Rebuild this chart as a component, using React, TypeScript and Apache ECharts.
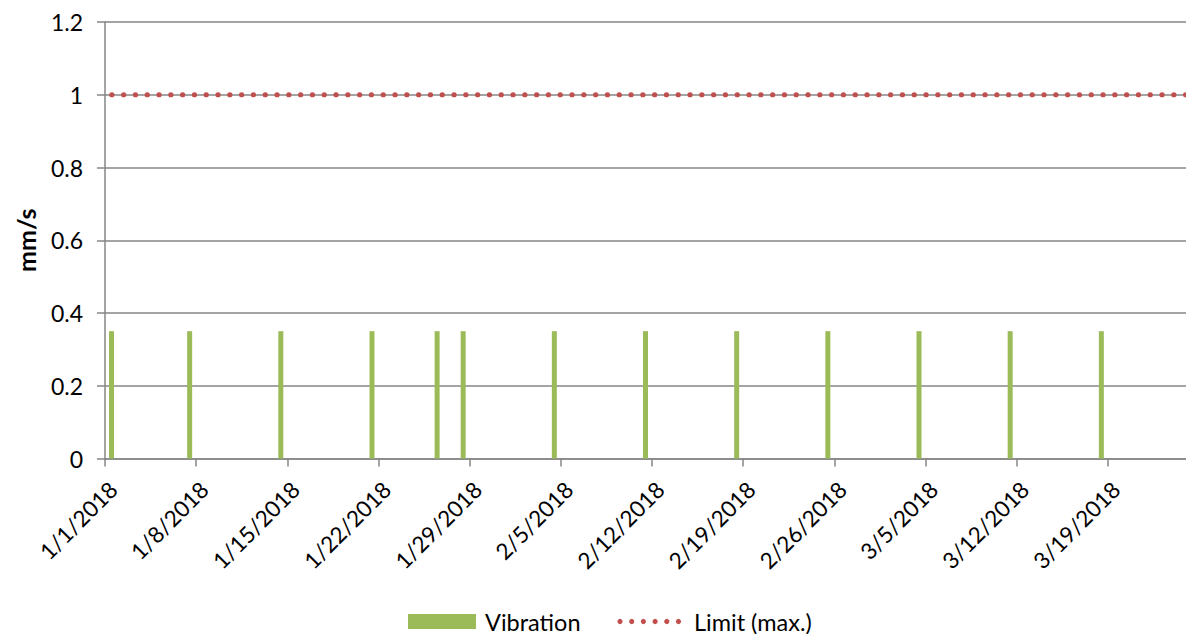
import React, { useEffect, useRef } from "react";
import * as echarts from "echarts";

const startDate = [2018, 0, 1];
const vibrationDates = [
  "1/1/2018", "1/7/2018", "1/14/2018", "1/21/2018", "1/26/2018", "1/28/2018",
  "2/4/2018", "2/11/2018", "2/18/2018", "2/25/2018", "3/4/2018", "3/11/2018", "3/18/2018",
];
const vibrationValues = [0.35, 0.35, 0.35, 0.35, 0.35, 0.35, 0.35, 0.35, 0.35, 0.35, 0.35, 0.35, 0.35];
const limitValue = 1;
const xDayRange = [0, 83];
const xTickDays = 7;
const yTicks = [0, 0.2, 0.4, 0.6, 0.8, 1, 1.2];
const seriesNames = ["Vibration", "Limit (max.)"];

const DAY = 86400000;
const base = Date.UTC(startDate[0], startDate[1], startDate[2]);
function dayIndex(s: string) {
  const [m, d, y] = s.split("/").map(Number);
  return Math.round((Date.UTC(y, m - 1, d) - base) / DAY);
}
function dayLabel(i: number) {
  const dt = new Date(base + i * DAY);
  return `${dt.getUTCMonth() + 1}/${dt.getUTCDate()}/${dt.getUTCFullYear()}`;
}

export default function App() {
  const ref = useRef<HTMLDivElement>(null);
  useEffect(() => {
    document.body.style.margin = "0";
    const chart = echarts.init(ref.current!, null, { renderer: "svg" });
    const font = "Lato, 'Open Sans', sans-serif";
    const grey = "#868686";
    const green = "#9BBB59";
    const red = "#C0504D";
    const legendY = 621.5;
    const dots = [0, 1, 2, 3, 4, 5].map((i) => ({
      type: "circle",
      shape: { cx: 620 + i * 11.7, cy: legendY, r: 2.6 },
      style: { fill: red },
    }));
    chart.setOption({
      animation: false,
      textStyle: { fontFamily: font },
      grid: { left: 105, right: -3, top: 22, bottom: 175.5 },
      graphic: [
        { type: "rect", shape: { x: 408, y: 614, width: 68, height: 15 }, style: { fill: green } },
        {
          type: "text", x: 485, y: legendY,
          style: { text: seriesNames[0], fontSize: 23.5, fontFamily: font, fill: "#000", verticalAlign: "middle" },
        },
        ...dots,
        {
          type: "text", x: 694, y: legendY,
          style: { text: seriesNames[1], fontSize: 23.5, fontFamily: font, fill: "#000", verticalAlign: "middle" },
        },
      ],
      xAxis: {
        type: "value",
        min: xDayRange[0],
        max: xDayRange[1],
        interval: xTickDays,
        axisLine: { show: true, lineStyle: { color: grey, width: 1.5 } },
        axisTick: { show: true, length: 8, lineStyle: { color: grey, width: 1.5 } },
        splitLine: { show: false },
        axisLabel: {
          rotate: 45,
          margin: 19,
          fontSize: 22.5,
          color: "#000",
          fontFamily: font,
          verticalAlign: "top",
          showMaxLabel: false,
          formatter: (v: number) => (v % xTickDays === 0 && v < xDayRange[1] ? dayLabel(v) : ""),
        },
      },
      yAxis: {
        type: "value",
        min: yTicks[0],
        max: yTicks[yTicks.length - 1],
        interval: 0.2,
        name: "mm/s",
        nameLocation: "middle",
        nameGap: 67,
        nameTextStyle: { fontSize: 25, fontWeight: "bold", color: "#000", fontFamily: font },
        axisLine: { show: true, lineStyle: { color: grey, width: 1.5 } },
        axisTick: { show: true, length: 8, lineStyle: { color: grey, width: 1.5 } },
        splitLine: { show: true, lineStyle: { color: grey, width: 1.5 } },
        axisLabel: {
          margin: 22,
          fontSize: 23,
          color: "#000",
          fontFamily: font,
          formatter: (v: number) => String(Math.round(v * 10) / 10),
        },
      },
      series: [
        {
          name: seriesNames[0],
          type: "bar",
          barWidth: 5,
          itemStyle: { color: green },
          data: vibrationDates.map((d, i) => [dayIndex(d) + 0.5, vibrationValues[i]]),
        },
        {
          name: seriesNames[1],
          type: "line",
          symbol: "none",
          lineStyle: { color: red, width: 5.2, type: [0.1, 11.7], cap: "round", dashOffset: 4.7 },
          itemStyle: { color: red },
          data: [[xDayRange[0], limitValue], [xDayRange[1], limitValue]],
        },
      ],
    });
    return () => chart.dispose();
  }, []);
  return <div ref={ref} style={{ width: 1186, height: 634 }} />;
}
